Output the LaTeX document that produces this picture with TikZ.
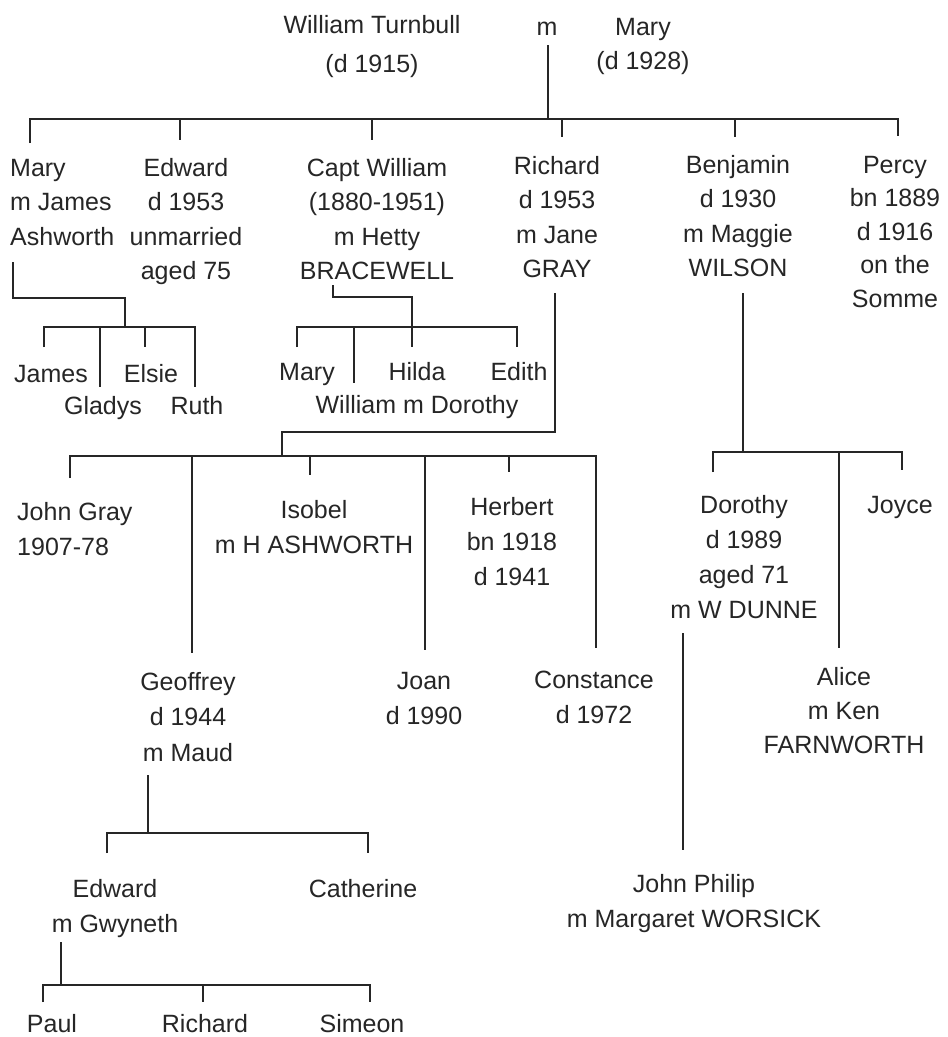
\documentclass[tikz,border=0pt]{standalone}
\usepackage{fontspec}
\setmainfont{Liberation Sans}
\definecolor{ink}{HTML}{262626}
\begin{document}
\begin{tikzpicture}[x=1pt,y=-1pt,
  lbl/.style={inner sep=0pt, font=\fontsize{25}{34.5}\selectfont, text=ink, align=center},
  lblL/.style={lbl, align=left},
  tree/.style={draw=ink, line width=2pt, line cap=butt, line join=miter}]
\fill[white] (0,0) rectangle (948,1037);
\useasboundingbox (0,0) rectangle (948,1037);

% (anchor=base is the baseline of the LAST line of a node)
% ---- generation 1
\node[lbl, anchor=base, font=\fontsize{25}{39}\selectfont] (wt) at (372,72) {William Turnbull\\(d 1915)};
\node[lbl, anchor=base] (mm) at (547,35) {m};
\node[lbl, anchor=base, font=\fontsize{25}{34}\selectfont] (mary0) at (643,69) {Mary\\(d 1928)};

% ---- generation 2
\node[lblL, anchor=base west] (maryA) at (10,245) {Mary\\m James\\Ashworth};
\node[lbl, anchor=base] (edwardA) at (186,279.5) {Edward\\d 1953\\unmarried\\aged 75};
\node[lbl, anchor=base] (capt) at (377,279.5) {Capt William\\(1880-1951)\\m Hetty\\BRACEWELL};
\node[lbl, anchor=base] (richard) at (557,277.5) {Richard\\d 1953\\m Jane\\GRAY};
\node[lbl, anchor=base] (benjamin) at (738,276.5) {Benjamin\\d 1930\\m Maggie\\WILSON};
\node[lbl, anchor=base, font=\fontsize{25}{33.5}\selectfont] (percy) at (895,307) {Percy\\bn 1889\\d 1916\\on the\\Somme};

% ---- Mary's children
\node[lbl, anchor=base] (james) at (51,382) {James};
\node[lbl, anchor=base] (gladys) at (103,414) {Gladys};
\node[lbl, anchor=base] (elsie) at (151,382) {Elsie};
\node[lbl, anchor=base] (ruth) at (197,414) {Ruth};

% ---- Capt William's children
\node[lbl, anchor=base] (maryB) at (307,380) {Mary};
\node[lbl, anchor=base] (hilda) at (417,380) {Hilda};
\node[lbl, anchor=base] (edith) at (519,380) {Edith};
\node[lbl, anchor=base] (william) at (417,413) {William m Dorothy};

% ---- Richard's children
\node[lblL, anchor=base west, font=\fontsize{25}{35}\selectfont] (john) at (17,555) {John Gray\\1907-78};
\node[lbl, anchor=base, font=\fontsize{25}{35}\selectfont] (isobel) at (314,553) {Isobel\\m H ASHWORTH};
\node[lbl, anchor=base, font=\fontsize{25}{35}\selectfont] (herbert) at (512,585) {Herbert\\bn 1918\\d 1941};
\node[lbl, anchor=base, font=\fontsize{25}{35.5}\selectfont] (geoffrey) at (188,761) {Geoffrey\\d 1944\\m Maud};
\node[lbl, anchor=base, font=\fontsize{25}{35}\selectfont] (joan) at (424,724) {Joan\\d 1990};
\node[lbl, anchor=base, font=\fontsize{25}{35}\selectfont] (constance) at (594,723) {Constance\\d 1972};

% ---- Benjamin's children
\node[lbl, anchor=base, font=\fontsize{25}{35}\selectfont] (dorothy) at (744,618) {Dorothy\\d 1989\\aged 71\\m W DUNNE};
\node[lbl, anchor=base] (joyce) at (900,513) {Joyce};
\node[lbl, anchor=base, font=\fontsize{25}{34}\selectfont] (alice) at (844,753) {Alice\\m Ken\\FARNWORTH};
\node[lbl, anchor=base] (johnp) at (694,927) {John Philip\\m Margaret WORSICK};

% ---- Geoffrey's children
\node[lbl, anchor=base] (edwardC) at (115,932) {Edward\\m Gwyneth};
\node[lbl, anchor=base] (catherine) at (363,897) {Catherine};
\node[lbl, anchor=base] (paul) at (52,1032) {Paul};
\node[lbl, anchor=base] (richardC) at (205,1032) {Richard};
\node[lbl, anchor=base] (simeon) at (362,1032) {Simeon};

% ================= connectors
% William & Mary -> children
\coordinate (sW) at (548,45);
\coordinate (busA) at (548,119);
\coordinate (tMaryA) at (30,143);
\coordinate (tEdwardA) at (180,140);
\coordinate (tCapt) at (372,140);
\coordinate (tRichard) at (562,137);
\coordinate (tBenjamin) at (735,137);
\coordinate (tPercy) at (898,136);
\draw[tree] (sW) -- (busA);
\draw[tree] (tMaryA) -- (tMaryA |- busA) -- (tPercy |- busA) -- (tPercy);
\foreach \t in {tEdwardA,tCapt,tRichard,tBenjamin} \draw[tree] (\t |- busA) -- (\t);

% Mary -> children
\coordinate (sMary) at (13,262);
\coordinate (kMary) at (125,298);
\coordinate (busB) at (125,327);
\coordinate (tJames) at (44,347);
\coordinate (tGladys) at (100,387);
\coordinate (tElsie) at (145,347);
\coordinate (tRuth) at (195,387);
\draw[tree] (sMary) |- (kMary) -- (busB);
\draw[tree] (tJames) -- (tJames |- busB) -- (tRuth |- busB) -- (tRuth);
\foreach \t in {tGladys,tElsie} \draw[tree] (\t |- busB) -- (\t);

% Capt William -> children
\coordinate (sCapt) at (333,285);
\coordinate (kCapt) at (412,297);
\coordinate (busC) at (412,327);
\coordinate (tMaryB) at (297,347);
\coordinate (tWilliam) at (354,383);
\coordinate (tHilda) at (412,347);
\coordinate (tEdith) at (517,347);
\draw[tree] (sCapt) |- (kCapt) -- (tHilda);
\draw[tree] (tMaryB) -- (tMaryB |- busC) -- (tEdith |- busC) -- (tEdith);
\draw[tree] (tWilliam |- busC) -- (tWilliam);

% Richard -> children
\coordinate (sRichard) at (555,293);
\coordinate (kRichard) at (282,432);
\coordinate (busD) at (282,456);
\coordinate (tJohn) at (70,478);
\coordinate (tGeoffrey) at (192,653);
\coordinate (tIsobel) at (310,475);
\coordinate (tJoan) at (425,650);
\coordinate (tHerbert) at (509,472);
\coordinate (tConstance) at (596,648);
\draw[tree] (sRichard) |- (kRichard) -- (busD);
\draw[tree] (tJohn) -- (tJohn |- busD) -- (tConstance |- busD) -- (tConstance);
\foreach \t in {tGeoffrey,tIsobel,tJoan,tHerbert} \draw[tree] (\t |- busD) -- (\t);

% Benjamin -> children
\coordinate (sBenjamin) at (743,293);
\coordinate (busE) at (743,452);
\coordinate (tDorothy) at (713,472);
\coordinate (tAlice) at (839,648);
\coordinate (tJoyce) at (902,470);
\draw[tree] (sBenjamin) -- (busE);
\draw[tree] (tDorothy) -- (tDorothy |- busE) -- (tJoyce |- busE) -- (tJoyce);
\draw[tree] (tAlice |- busE) -- (tAlice);

% Dorothy -> John Philip
\coordinate (sDorothy) at (683,633);
\coordinate (tJohnP) at (683,850);
\draw[tree] (sDorothy) -- (tJohnP);

% Geoffrey -> children
\coordinate (sGeoffrey) at (148,775);
\coordinate (busF) at (148,833);
\coordinate (tEdwardC) at (107,853);
\coordinate (tCatherine) at (368,853);
\draw[tree] (sGeoffrey) -- (busF);
\draw[tree] (tEdwardC) -- (tEdwardC |- busF) -- (tCatherine |- busF) -- (tCatherine);

% Edward -> children
\coordinate (sEdwardC) at (61,942);
\coordinate (busG) at (61,985);
\coordinate (tPaul) at (43,1002);
\coordinate (tRichardC) at (203,1002);
\coordinate (tSimeon) at (370,1002);
\draw[tree] (sEdwardC) -- (busG);
\draw[tree] (tPaul) -- (tPaul |- busG) -- (tSimeon |- busG) -- (tSimeon);
\draw[tree] (tRichardC |- busG) -- (tRichardC);
\end{tikzpicture}
\end{document}
